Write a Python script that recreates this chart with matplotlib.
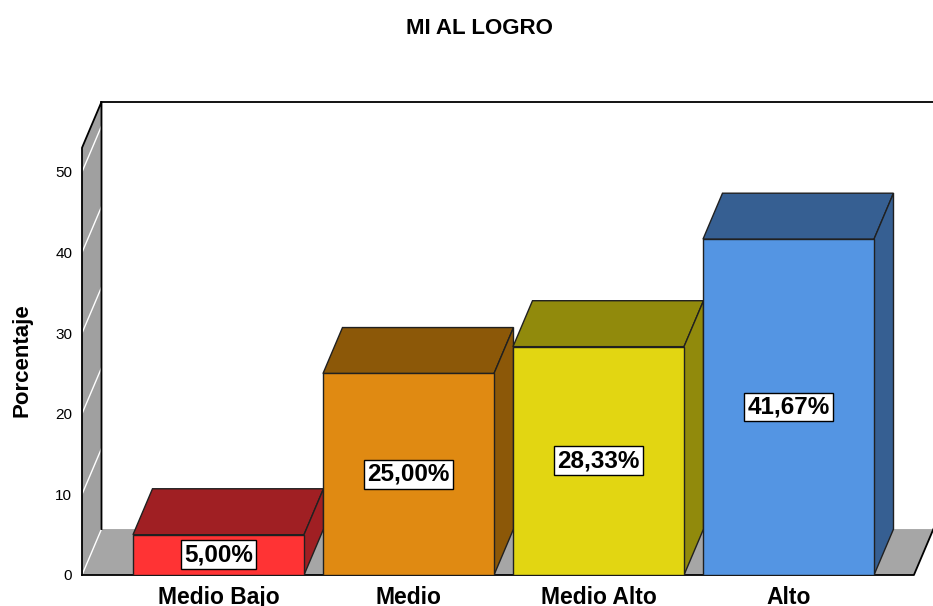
import matplotlib.pyplot as plt
from matplotlib.patches import Polygon

categorias = ['Medio Bajo', 'Medio', 'Medio Alto', 'Alto']
porcentajes = [5.00, 25.00, 28.33, 41.67]
etiquetas = ['5,00%', '25,00%', '28,33%', '41,67%']
colores_frente = ['#ff3334', '#e08a12', '#e2d612', '#5495e3']
colores_sombra = ['#a01f23', '#8c5808', '#918a0c', '#365f92']
yticks = [0, 10, 20, 30, 40, 50]

plt.rcParams['font.family'] = ['Liberation Sans', 'DejaVu Sans']

fig = plt.figure(figsize=(9.33, 6.06), dpi=100)
ax = fig.add_axes([82/933, 31/606, 851/933, 472/606])
x0, x1 = -0.7184, 3.7605
ax.set_xlim(x0, x1)
ax.set_ylim(0, 58.56)
for s in ax.spines.values():
    s.set_visible(False)

ancho = 0.9
dx, dy = 0.1026, 5.7   # profundidad 3D
alto_pared = 53.0
xf = 3.66
borde = '#202020'

# pared izquierda y suelo
ax.add_patch(Polygon([(x0, 0), (x0, alto_pared), (x0+dx, alto_pared+dy), (x0+dx, dy)],
                     closed=True, fc='#a0a0a0', ec='none', clip_on=False, zorder=1))
ax.add_patch(Polygon([(x0, 0), (xf, 0), (xf+dx, dy), (x0+dx, dy)],
                     closed=True, fc='#a6a6a6', ec='none', clip_on=False, zorder=1))
for t in yticks:
    ax.plot([x0, x0+dx], [t, t+dy], color='white', lw=1, zorder=1.5, clip_on=False)
ax.plot([x0, x0, x0+dx, x0+dx], [0, alto_pared, alto_pared+dy, dy], color='black', lw=1.3,
        zorder=2, clip_on=False)
ax.plot([x0+dx, x1], [alto_pared+dy, alto_pared+dy], color='black', lw=1.3, zorder=2, clip_on=False)
ax.plot([x0, xf, xf+dx], [0, 0, dy], color='black', lw=1.3, zorder=2, clip_on=False)

# barras
pos = list(range(len(categorias)))
ax.bar(pos, porcentajes, width=ancho, color=colores_frente, edgecolor=borde, linewidth=1, zorder=3)
for i, v in enumerate(porcentajes):
    l, r = i - ancho/2, i + ancho/2
    ax.add_patch(Polygon([(l, v), (r, v), (r+dx, v+dy), (l+dx, v+dy)], closed=True,
                         fc=colores_sombra[i], ec=borde, lw=1, zorder=2.5))
    ax.add_patch(Polygon([(r, 0), (r+dx, dy), (r+dx, v+dy), (r, v)], closed=True,
                         fc=colores_sombra[i], ec=borde, lw=1, zorder=2.5))
    ax.text(i, v/2, etiquetas[i], ha='center', va='center', fontsize=17.5, fontweight='bold',
            bbox=dict(boxstyle='square,pad=0.12', fc='white', ec='black', lw=1), zorder=6)

ax.set_yticks(yticks)
ax.tick_params(axis='y', length=0, pad=7, labelsize=11)
ax.set_xticks(pos, categorias, fontsize=16.5, fontweight='bold')
ax.tick_params(axis='x', length=0, pad=8)

fig.text(22/933, 1 - 360/606, 'Porcentaje', rotation=90, ha='center', va='center',
         fontsize=16, fontweight='bold')
fig.text(479/933, 1 - 28/606, 'MI AL LOGRO', ha='center', va='center',
         fontsize=16, fontweight='bold')

fig.savefig('out.png', dpi=100)
